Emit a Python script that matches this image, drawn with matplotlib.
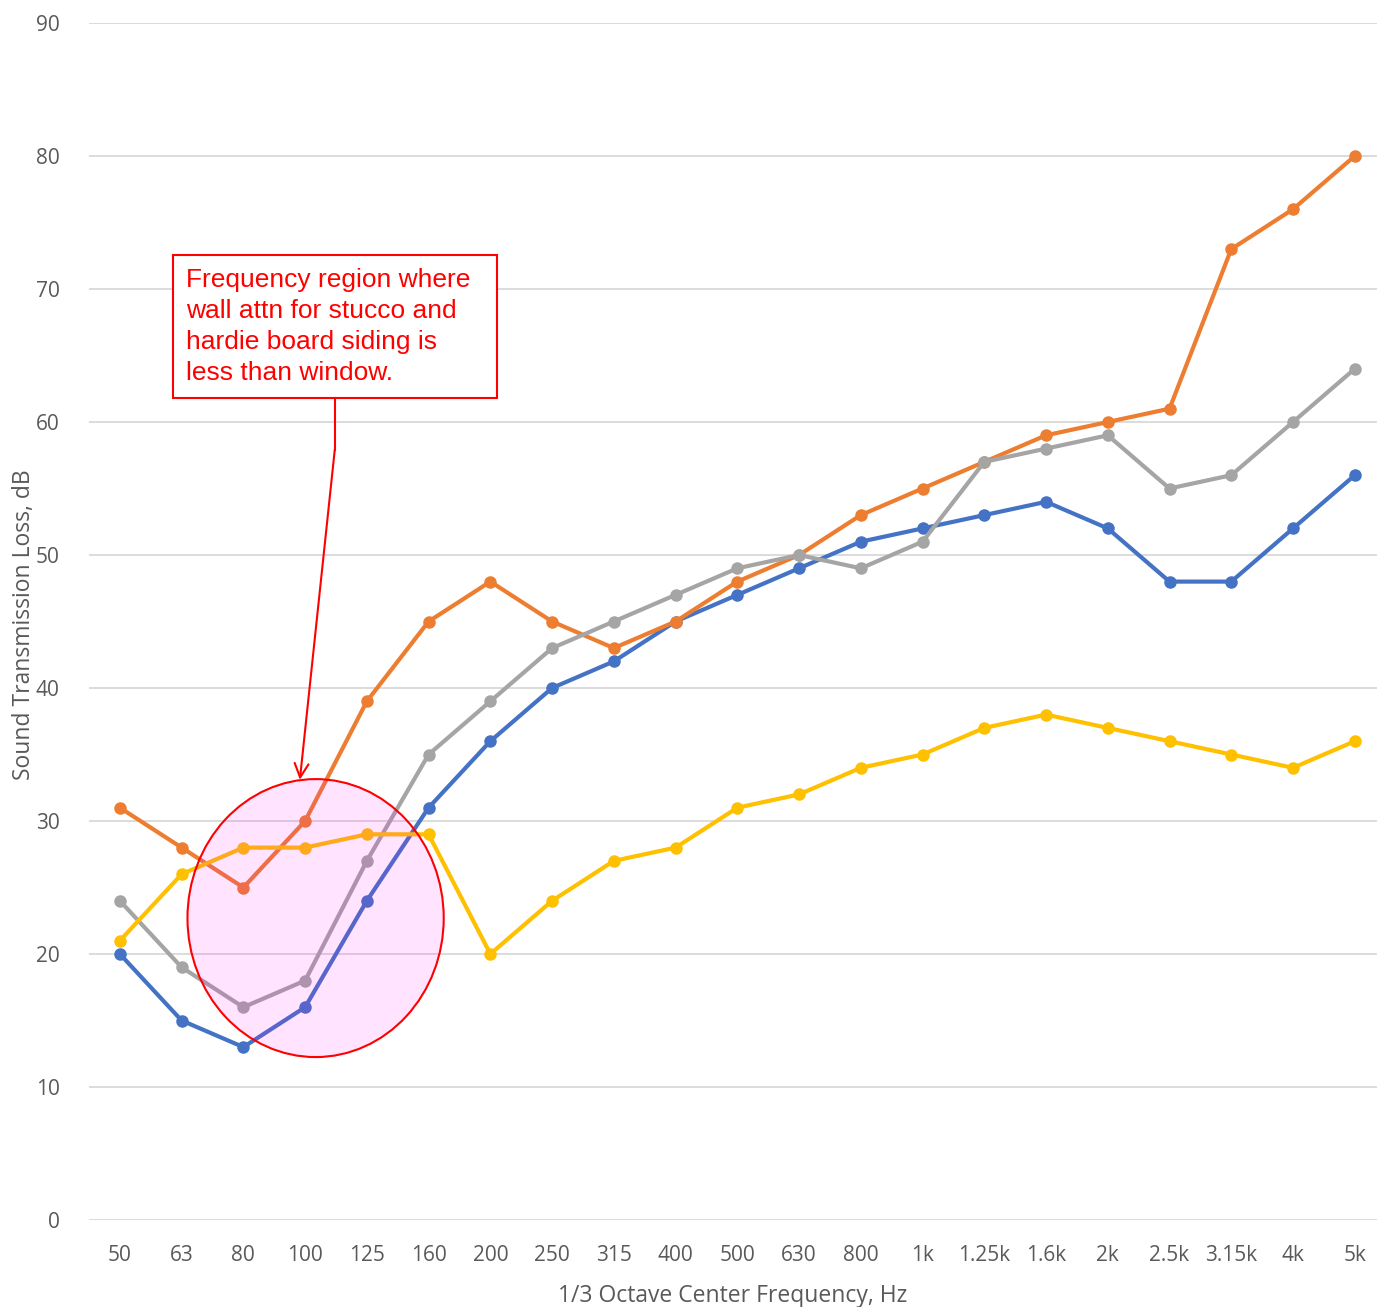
import matplotlib.pyplot as plt
from matplotlib.patches import Ellipse, Rectangle

freqs = ['50', '63', '80', '100', '125', '160', '200', '250', '315', '400', '500',
         '630', '800', '1k', '1.25k', '1.6k', '2k', '2.5k', '3.15k', '4k', '5k']

blue = [20, 15, 13, 16, 24, 31, 36, 40, 42, 45, 47, 49, 51, 52, 53, 54, 52, 48, 48, 52, 56]
orange = [31, 28, 25, 30, 39, 45, 48, 45, 43, 45, 48, 50, 53, 55, 57, 59, 60, 61, 73, 76, 80]
gray = [24, 19, 16, 18, 27, 35, 39, 43, 45, 47, 49, 50, 49, 51, 57, 58, 59, 55, 56, 60, 64]
yellow = [21, 26, 28, 28, 29, 29, 20, 24, 27, 28, 31, 32, 34, 35, 37, 38, 37, 36, 35, 34, 36]

note = "Frequency region where\nwall attn for stucco and\nhardie board siding is\nless than window."

plt.rcParams['font.family'] = ['Open Sans', 'DejaVu Sans']

fig = plt.figure(figsize=(13.77, 13.07), dpi=100)
ax = fig.add_axes([89 / 1377, 87 / 1307, 1 - 89 / 1377, (1220 - 23) / 1307])

x = list(range(len(freqs)))
for vals, col in [(blue, '#4472C4'), (orange, '#ED7D31'), (gray, '#A5A5A5'), (yellow, '#FFC000')]:
    ax.plot(x, vals, color=col, lw=3, marker='o', ms=8, zorder=3)

ax.set_xlim(-0.5, 20.36)
ax.set_ylim(0, 90)
ax.set_yticks(range(0, 91, 10))
ax.set_xticks(x)
ax.set_xticklabels(freqs)
ax.grid(axis='y', color='#D9D9D9', lw=1.3)
ax.set_axisbelow(True)
for s in ax.spines.values():
    s.set_visible(False)
ax.tick_params(length=0, labelsize=15, colors='#595959')
ax.tick_params(axis='y', pad=21)
ax.tick_params(axis='x', pad=18)
ax.set_xlabel('1/3 Octave Center Frequency, Hz', fontsize=16.5, color='#595959', labelpad=13)
ax.set_ylabel('Sound Transmission Loss, dB', fontsize=16.5, color='#595959')
ax.yaxis.set_label_coords(-0.041, 0.497)

# highlighted region
ax.add_patch(Ellipse((3.17, 22.7), 4.15, 20.9, facecolor=(1, 0, 1, 0.11),
                     edgecolor='red', lw=1.5, zorder=4))

# callout box
ax.add_patch(Rectangle((0.858, 61.8), 5.247, 10.76, facecolor='white',
                       edgecolor='red', lw=1.5, zorder=5))
ax.text(1.07, 71.55, note, color='red', fontsize=19, family='Liberation Sans',
        va='top', ha='left', linespacing=1.36, zorder=6)

ax.plot([3.48, 3.48], [61.8, 57.9], color='red', lw=1.5, zorder=5)
ax.annotate('', xy=(2.915, 33.1), xytext=(3.48, 57.9),
            arrowprops=dict(arrowstyle='->', color='red', lw=1.5,
                            mutation_scale=25, shrinkA=0, shrinkB=0), zorder=5)

fig.savefig('out.png', dpi=100)
